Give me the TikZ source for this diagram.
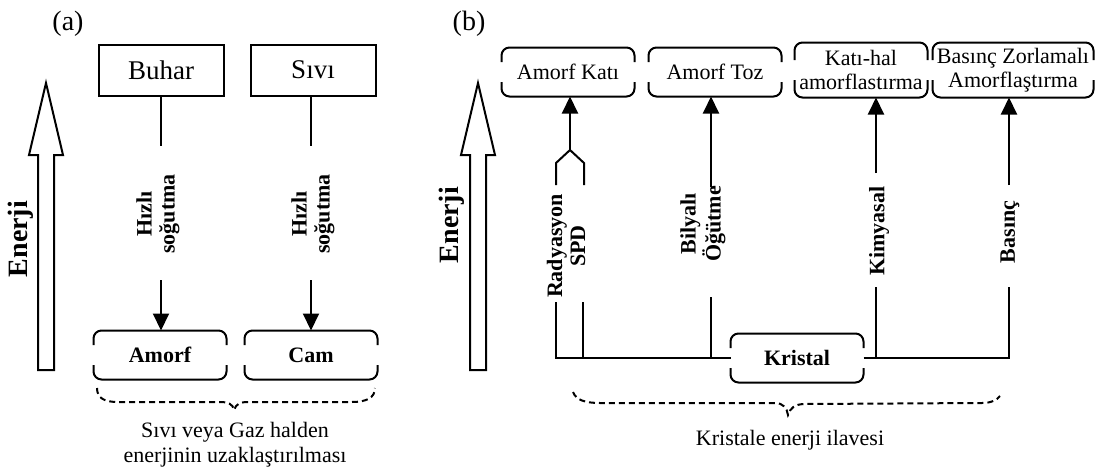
\documentclass[tikz,border=0pt]{standalone}
\usepackage{fontspec}
\setmainfont{Liberation Serif}
\usepackage{tikz}
\usetikzlibrary{positioning}
\usetikzlibrary{arrows.meta}
\usetikzlibrary{calc}

\tikzset{
  lbl/.style={font=\fontsize{11}{11.5}\selectfont\bfseries, align=center, rotate=90, inner sep=0pt},
  enlbl/.style={font=\fontsize{14}{15}\selectfont\bfseries, rotate=90, inner sep=0pt},
  stbox/.style={draw, rectangle, minimum width=62.5pt, minimum height=25.5pt, inner sep=0pt, font=\fontsize{13.5}{15}\selectfont},
  brbox/.style={minimum width=65.5pt, minimum height=23.5pt, inner sep=0pt, align=center, font=\fontsize{11}{12}\selectfont},
  tip/.style={-{Triangle[width=8pt,length=8.5pt]}},
  brace/.style={dash pattern=on 3pt off 2pt},
}

\begin{document}
\begin{tikzpicture}[x=0.5pt,y=-0.5pt,line width=1pt]
  \useasboundingbox (0,0) rectangle (1099,472);

  % (a) enerjinin uzaklastirilmasi
  \node[font=\fontsize{14}{15}\selectfont] (pa) at (68,24) {(a)};
  \node[stbox] (buhar) at (161,70) {Buhar};
  \node[stbox] (sivi) at (313,70) {Sıvı};
  \node[brbox,font=\fontsize{11}{12}\selectfont\bfseries] (amorf) at (160,355) {Amorf};
  \node[brbox,font=\fontsize{11}{12}\selectfont\bfseries] (cam) at (311,355) {Cam};
  \node[lbl] (hs1) at (158,214) {Hızlı\\soğutma};
  \node[lbl] (hs2) at (313,214) {Hızlı\\soğutma};
  \node[enlbl] (en1) at (21,239) {Enerji};
  \node[align=center, font=\fontsize{11}{12.5}\selectfont] (cap1) at (235,445) {Sıvı veya Gaz halden\\enerjinin uzaklaştırılması};

  \coordinate (bh) at (161,146);
  \coordinate (bt) at (161,280);
  \coordinate (sh) at (311,146);
  \coordinate (st) at (311,280);
  \draw (buhar.south) -- (bh);
  \draw (sivi.south -| sh) -- (sh);
  \draw[tip] (bt) -- (bt |- amorf.north);
  \draw[tip] (st) -- (st |- cam.north);
  \draw[brace] (97,388) .. controls (97,398) and (104,402) .. (118,402) -- (220,402)
    .. controls (228,402) and (233,404) .. (234,410) .. controls (236,404) and (240,402) .. (248,402)
    -- (352,402) .. controls (366,402) and (375,398) .. (375,388);

  % (b) kristale enerji ilavesi
  \node[font=\fontsize{14}{15}\selectfont] (pb) at (469,24) {(b)};
  \node[brbox] (amkati) at (568,72) {Amorf Katı};
  \node[brbox] (amtoz) at (715,72) {Amorf Toz};
  \node[brbox,minimum height=26.5pt] (katihal) at (861,70) {Katı-hal\\amorflastırma};
  \node[brbox,minimum height=26.5pt,minimum width=79.5pt] (basinc) at (1013,70) {Basınç Zorlamalı\\Amorflaştırma};
  \node[brbox,font=\fontsize{11}{12}\selectfont\bfseries] (kristal) at (797,358) {Kristal};
  \node[lbl] (rad) at (566,246) {Radyasyon\\SPD};
  \node[lbl] (bil) at (703,224) {Bilyalı\\Öğütme};
  \node[lbl] (kim) at (879,231) {Kimyasal};
  \node[lbl] (bas) at (1010,232) {Basınç};
  \node[enlbl] (en2) at (452,225) {Enerji};
  \node[font=\fontsize{11}{12.5}\selectfont] (cap2) at (790,440) {Kristale enerji ilavesi};

  \coordinate (rj) at (570,150);
  \coordinate (ra1) at (556,185);
  \coordinate (ra2) at (584,185);
  \coordinate (rb1) at (556,302);
  \coordinate (rb2) at (583,302);
  \coordinate (bl1) at (711,187);
  \coordinate (bl2) at (711,297);
  \coordinate (km1) at (876,173);
  \coordinate (km2) at (876,287);
  \coordinate (bs1) at (1009,185);
  \coordinate (bs2) at (1009,287);

  \draw[tip] (rj) -- (rj |- amkati.south);
  \draw (ra1) -- ++(0,-22) -- (rj) -- ($(ra2)+(0,-22)$) -- (ra2);
  \draw[tip] (bl1) -- (bl1 |- amtoz.south);
  \draw[tip] (km1) -- (km1 |- katihal.south);
  \draw[tip] (bs1) -- (bs1 |- basinc.south);
  \draw (rb1) |- (kristal.west);
  \draw (rb2) -- (rb2 |- kristal.west);
  \draw (bl2) -- (bl2 |- kristal.west);
  \draw (kristal.east) -| (bs2);
  \draw (km2) -- (km2 |- kristal.east);
  \draw[brace] (573,392) .. controls (576,400) and (585,403) .. (600,403) -- (775,403)
    .. controls (783,403) and (787,408) .. (788,415) .. controls (790,408) and (795,404) .. (805,404)
    -- (982,403) .. controls (991,403) and (997,400) .. (1000,396);

  % bracket boxes
  \foreach \n in {amorf,cam,amkati,amtoz,katihal,basinc,kristal}
    \draw[rounded corners=4pt] ([yshift=5pt]\n.west) |- (\n.north) -| ([yshift=5pt]\n.east)
      ([yshift=-5pt]\n.west) |- (\n.south) -| ([yshift=-5pt]\n.east);

  % enerji oklari
  \foreach \ex in {46,478}
    \draw (\ex-8,370) -- (\ex-8,155) -- (\ex-17,155) -- (\ex,83) -- (\ex+17,155)
      -- (\ex+8,155) -- (\ex+8,370) -- cycle;
\end{tikzpicture}
\end{document}
